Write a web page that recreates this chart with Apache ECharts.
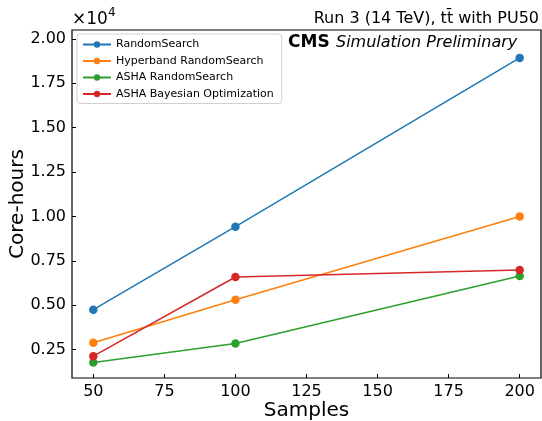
<!DOCTYPE html>
<html>
<head>
<meta charset="utf-8">
<script src="https://cdn.jsdelivr.net/npm/echarts@6/dist/echarts.min.js"></script>
<style>
  html, body { margin: 0; padding: 0; background: #fff; }
  #chart { width: 542px; height: 421px; }
</style>
</head>
<body>
<div id="chart"></div>
<script>
// samples on x, core-hours on y
const samples = [50, 100, 200];
const randomSearch = [4750, 9420, 18930];
const hyperbandRandomSearch = [2890, 5310, 10000];
const ashaRandomSearch = [1770, 2840, 6650];
const ashaBayesian = [2130, 6590, 6980];

const xTicks = [50, 75, 100, 125, 150, 175, 200];
const yTicks = [2500, 5000, 7500, 10000, 12500, 15000, 17500, 20000];

const seriesNames = ['RandomSearch', 'Hyperband RandomSearch', 'ASHA RandomSearch', 'ASHA Bayesian Optimization'];
const seriesValues = [randomSearch, hyperbandRandomSearch, ashaRandomSearch, ashaBayesian];
const colors = ['#1f77b4', '#ff7f0e', '#2ca02c', '#d62728'];

const font = 'DejaVu Sans';
const chart = echarts.init(document.getElementById('chart'));

chart.setOption({
    animation: false,
    textStyle: { fontFamily: font },
    grid: { left: 72, right: 1, top: 30, bottom: 43, outerBoundsMode: 'none', containLabel: false,
        show: true, borderColor: '#000', borderWidth: 1.2 },
    legend: {
        left: 77, top: 34,
        orient: 'vertical',
        itemWidth: 28, itemHeight: 8, itemGap: 5.5,
        backgroundColor: '#fff',
        borderColor: '#d0d0d0', borderWidth: 1, borderRadius: 3,
        padding: [5, 8, 4, 5],
        textStyle: { fontSize: 11, color: '#000', fontFamily: font },
        data: seriesNames
    },
    xAxis: {
        type: 'value', min: 42.5, max: 207.5,
        name: 'Samples', nameLocation: 'middle', nameGap: 23, nameMoveOverlap: false,
        nameTextStyle: { fontSize: 20, color: '#000' },
        splitLine: { show: false },
        axisLine: { show: false },
        axisTick: { inside: true, length: 4, lineStyle: { color: '#000' }, customValues: xTicks },
        axisLabel: { fontSize: 16, color: '#000', margin: 6, customValues: xTicks }
    },
    yAxis: {
        type: 'value', min: 900, max: 20500,
        name: 'Core-hours', nameLocation: 'middle', nameGap: 44, nameMoveOverlap: false,
        nameTextStyle: { fontSize: 20, color: '#000' },
        splitLine: { show: false },
        axisLine: { show: false },
        axisTick: { inside: true, length: 4, lineStyle: { color: '#000' }, customValues: yTicks },
        axisLabel: { fontSize: 16, color: '#000', margin: 6, customValues: yTicks,
            formatter: v => (v / 10000).toFixed(2) }
    },
    series: seriesNames.map((name, i) => ({
        name: name,
        type: 'line',
        data: samples.map((s, j) => [s, seriesValues[i][j]]),
        symbol: 'circle', symbolSize: 8.5,
        lineStyle: { width: 1.5, color: colors[i] },
        itemStyle: { color: colors[i] }
    })),
    graphic: [
        { type: 'text', left: 72, top: 11,
          style: { text: '×10', font: '17px DejaVu Sans', fill: '#000' } },
        { type: 'text', left: 108, top: 7,
          style: { text: '4', font: '12px DejaVu Sans', fill: '#000' } },
        { type: 'text', right: 3, top: 11,
          style: { text: 'Run 3 (14 TeV), t\u0074\u0304 with PU50', font: '16px DejaVu Sans', fill: '#000' } },
        { type: 'text', left: 288, top: 34,
          style: { text: 'CMS', font: 'bold 17px DejaVu Sans', fill: '#000' } },
        { type: 'text', left: 336, top: 35,
          style: { text: 'Simulation Preliminary', font: 'italic 16px DejaVu Sans', fill: '#000' } }
    ]
});
</script>
</body>
</html>
